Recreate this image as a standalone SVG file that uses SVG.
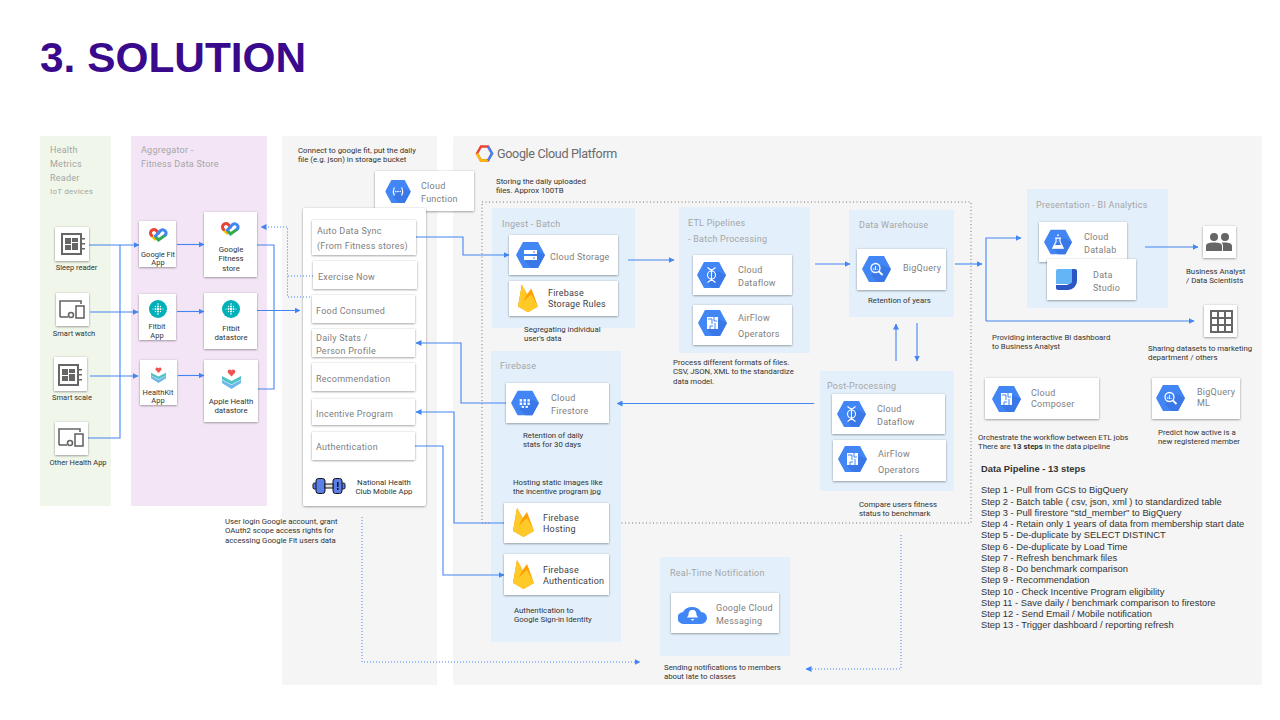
<svg xmlns="http://www.w3.org/2000/svg" width="1280" height="720" viewBox="0 0 1280 720">
<style>
text{font-family:Roboto,"Liberation Sans",sans-serif}
.title{font-family:"Liberation Sans",Arial,sans-serif;font-weight:700;font-size:42.4px;fill:#3a0a8c}
.p{font-size:9px;fill:#a5a5a5;letter-spacing:.25px}
.l{font-size:9px;fill:#808080;letter-spacing:.25px}
.d{font-size:9px;fill:#424242;letter-spacing:.2px}
.n{font-size:7.8px;fill:#333}
.sm{font-size:7.5px;fill:#333}
.s{font-family:"Liberation Sans",Arial,sans-serif;font-size:9.35px;fill:#333}
.m{text-anchor:middle}
.c{fill:#fff;filter:url(#sh)}
.g{fill:#f5f5f5}.b{fill:#e3f0fb}
.w{fill:none;stroke:#4285f4;stroke-width:1.1}
.a{marker-end:url(#ah)}
.dot{fill:none;stroke:#4285f4;stroke-width:1;stroke-dasharray:1 2}
.hx{fill:#4285f4}
.wf{fill:#fff}.ws{fill:none;stroke:#fff}
</style>
<defs>
<filter id="sh" x="-10%" y="-10%" width="120%" height="125%"><feDropShadow dx="0" dy=".7" stdDeviation=".8" flood-color="#000" flood-opacity=".42"/></filter>
<marker id="ah" viewBox="0 0 6 6" refX="5.5" refY="3" markerWidth="6" markerHeight="6" markerUnits="userSpaceOnUse" orient="auto"><path d="M0 0L6 3L0 6z" fill="#4285f4"/></marker>
<symbol id="hex" viewBox="0 0 29 26"><polygon class="hx" points="0,13 7,0 22,0 29,13 22,26 7,26"/><polygon fill="#3b78e7" points="9,19 20,9 29,13 22,26 15,26"/></symbol>
<symbol id="i-storage" viewBox="0 0 29 26"><use href="#hex" width="29" height="26"/><rect class="wf" x="8" y="8" width="13" height="4"/><rect class="wf" x="8" y="14" width="13" height="4"/><rect class="hx" x="17" y="9.5" width="2" height="1"/><rect class="hx" x="17" y="15.5" width="2" height="1"/></symbol>
<symbol id="i-flow" viewBox="0 0 29 26"><use href="#hex" width="29" height="26"/><circle class="ws" cx="14.5" cy="13" r="4" stroke-width="1.1"/><path class="ws" stroke-width="1.1" d="M14.5 7V19M10.500 5.500l4 3 4-3M10.500 20.500l4-3 4 3"/></symbol>
<symbol id="i-air" viewBox="0 0 29 26"><use href="#hex" width="29" height="26"/><rect class="wf" x="9" y="7" width="11" height="12"/><path stroke="#4285f4" stroke-width="1" fill="none" d="M10 9h4v5M16 7v4h3M12 19v-3h3M17 13v6"/></symbol>
<symbol id="i-bq" viewBox="0 0 29 26"><use href="#hex" width="29" height="26"/><circle class="ws" cx="13.5" cy="12" r="4.500" stroke-width="1.300"/><path class="ws" stroke-width="1.800" d="M16.800 15.300l3.700 3.700"/><path class="ws" stroke-width=".9" d="M11.800 14v-2M13.500 14v-4M15.200 14v-1"/></symbol>
<symbol id="i-store" viewBox="0 0 29 26"><use href="#hex" width="29" height="26"/><g class="wf"><rect x="9" y="9" width="2.500" height="2.500"/><rect x="13" y="9" width="2.500" height="2.500"/><rect x="17" y="9" width="2.500" height="2.500"/><rect x="9" y="12.500" width="2.500" height="2.500"/><rect x="13" y="12.500" width="2.500" height="2.500"/><rect x="17" y="12.500" width="2.500" height="2.500"/><rect x="11" y="16" width="2.500" height="2"/><rect x="15" y="16" width="2.500" height="2"/></g></symbol>
<symbol id="i-lab" viewBox="0 0 29 26"><use href="#hex" width="29" height="26"/><path class="ws" stroke-width="1.100" d="M12.500 9v3.500l-3.500 7h11l-3.500-7V9M11.500 9h6"/><path class="wf" d="M11 16h7l2 3.500h-11z"/><circle class="wf" cx="14.500" cy="6" r=".9"/></symbol>
<symbol id="i-fn" viewBox="0 0 29 26"><use href="#hex" width="29" height="26"/><path class="ws" stroke-width="1.300" d="M10.500 8.500Q8 13 10.500 17.500M18.500 8.500Q21 13 18.500 17.500"/><g class="wf"><circle cx="12" cy="13" r=".9"/><circle cx="14.500" cy="13" r=".9"/><circle cx="17" cy="13" r=".9"/></g></symbol>
<symbol id="i-fire" viewBox="0 0 21 29"><path fill="#f57c00" d="M0 23L4 0L9.500 10L12 14z"/><path fill="#ffa000" d="M0 23L14 4L21 23L10.500 29z"/><path fill="#ffca28" d="M0 23L4 0L9.500 10L5 19zM0 23L14 10L21 23L10.500 29z"/></symbol>
<symbol id="i-fit" viewBox="0 0 19 16"><g fill="none" stroke-width="3" stroke-linecap="round"><path stroke="#fbbc04" d="M2.600 7.500L6 11"/><path stroke="#34a853" d="M6.500 8.500L9.500 12L16.400 7"/><path stroke="#ea4335" d="M9.500 5L7.300 2.500A3.300 3.300 0 0 0 2.600 7.500"/><path stroke="#4285f4" d="M6.500 8L11.700 2.500A3.300 3.300 0 0 1 16.400 7"/></g></symbol>
<symbol id="i-fitbit" viewBox="0 0 18 18"><circle cx="9" cy="9" r="9" fill="#00b0b9"/><g fill="#fff"><circle cx="9" cy="4" r=".8"/><circle cx="9" cy="6.500" r="1"/><circle cx="9" cy="9" r="1.200"/><circle cx="9" cy="11.500" r="1"/><circle cx="9" cy="14" r=".8"/><circle cx="6.500" cy="6.500" r=".7"/><circle cx="6.500" cy="9" r=".9"/><circle cx="6.500" cy="11.500" r=".7"/><circle cx="11.500" cy="6.500" r=".7"/><circle cx="11.500" cy="9" r=".9"/><circle cx="11.500" cy="11.500" r=".7"/><circle cx="4" cy="9" r=".6"/><circle cx="14" cy="9" r=".6"/></g></symbol>
<symbol id="i-kit" viewBox="0 0 19 20"><path fill="#6fb7e8" d="M0 11L9.500 16L19 11V14L9.500 20L0 14z"/><path fill="#4fc3c7" d="M0 7L9.500 12L19 7V10.500L9.500 15.500L0 10.500z"/><path fill="#ef5350" d="M9.500 7.500L5.800 3.500C5 1 8 -.5 9.500 1.500C11 -.5 14 1 13.200 3.500z"/></symbol>
<symbol id="i-sleep" viewBox="0 0 24 22"><g fill="#666"><path fill-rule="evenodd" d="M0 0H21V22H0zM2 2V20H19V2z"/><rect x="4" y="5" width="6" height="6"/><rect x="11" y="5" width="6" height="4"/><rect x="4" y="12" width="6" height="5"/><rect x="11" y="10" width="6" height="7"/><rect x="21" y="5" width="3" height="1.500"/><rect x="21" y="10" width="3" height="1.500"/><rect x="21" y="15" width="3" height="1.500"/></g></symbol>
<symbol id="i-watch" viewBox="0 0 26 19"><g fill="none" stroke="#666" stroke-width="1.600"><path d="M1 17V1H22V4"/><path d="M1 17H9"/><rect x="17" y="6" width="8" height="12"/><circle cx="12" cy="15" r="2.500"/></g></symbol>
<symbol id="i-people" viewBox="0 0 26 18"><g fill="#666"><circle cx="8" cy="4" r="4"/><circle cx="19" cy="4" r="4"/><path d="M0 18V13C0 10 4 9.500 8 9.500S16 10 16 13V18z"/><path d="M17 18V13C17 11.500 16.500 10.500 15.500 9.700C21 9 26 10 26 13V18z"/></g></symbol>
<symbol id="i-grid" viewBox="0 0 23 23"><path fill="none" stroke="#666" stroke-width="2" d="M1 1H22V22H1zM8 1V22M15 1V22M1 8H22M1 15H22"/></symbol>
<symbol id="i-studio" viewBox="0 0 21 21"><path fill="#2a56c6" d="M19 0a2 2 0 0 1 2 2V12a9 9 0 0 1-9 9H2a2 2 0 0 1-2-2V16H10a4 4 0 0 0 4-4V0z"/><path fill="#64b5f6" d="M2 0H16V12a3 3 0 0 1-3 3H0V2a2 2 0 0 1 2-2z"/></symbol>
<symbol id="i-gcm" viewBox="0 0 29 19"><path class="hx" d="M6 19a6 6 0 0 1-1-12A10 9 0 0 1 23 7a6 6 0 0 1 0 12z"/><path class="wf" d="M14.500 5c3 0 4 2 4 5l1.500 2.500H9L10.500 10c0-3 1-5 4-5zM13 14h3a1.500 1.500 0 0 1-3 0z"/></symbol>
<symbol id="i-bell" viewBox="0 0 34 16"><g stroke="#111" stroke-width="1"><rect x="1" y="5" width="4" height="6" rx="1.500" fill="#5b7fe8"/><rect x="29" y="5" width="4" height="6" rx="1.500" fill="#5b7fe8"/><rect x="4" y="0.500" width="9" height="15" rx="2.500" fill="#5b7fe8"/><rect x="21" y="0.500" width="9" height="15" rx="2.500" fill="#5b7fe8"/><rect x="13" y="6" width="8" height="4" fill="#ddd"/></g><rect x="25" y="4" width="1.500" height="5" fill="#111"/><rect x="25" y="10" width="1.500" height="2" fill="#111"/></symbol>
</defs>
<rect width="1280" height="720" fill="#fff"/>
<text class="title" x="40" y="72">3. SOLUTION</text>

<g id="panels">
<rect x="40" y="136" width="71" height="370" fill="#f0f6e9"/>
<rect x="131" y="136" width="136" height="370" fill="#f3e5f5"/>
<rect class="g" x="282" y="136" width="155" height="549"/>
<rect class="g" x="453" y="136" width="809" height="549" rx="2"/>
<rect x="482" y="202" width="489" height="321" fill="none" stroke="#757575" stroke-width="1" stroke-dasharray="1 2.500"/>
<rect class="b" x="492" y="208" width="143" height="120"/>
<rect class="b" x="679" y="207" width="131" height="146"/>
<rect class="b" x="849" y="210" width="105" height="107"/>
<rect class="b" x="1027" y="189" width="141" height="119"/>
<rect class="b" x="820" y="371" width="134" height="120"/>
<rect class="b" x="491" y="351" width="130" height="291"/>
<rect class="b" x="660" y="557" width="130" height="99"/>
</g>

<g id="node-cloud-function">
<rect class="c" x="375" y="171" width="99" height="40"/>
<use href="#i-fn" x="385" y="180" width="26" height="23"/>
<text class="l" x="421" y="189">Cloud</text><text class="l" x="421" y="202">Function</text>
</g>
<g id="node-mobile-app-card"><rect class="c" x="303" y="208" width="123" height="298" rx="2"/></g>

<g id="connectors">
<path class="w a" d="M89 245H139"/>
<path class="w" d="M120 245V438H88"/>
<path class="w a" d="M90 312H138"/>
<path class="w a" d="M90 376H138"/>
<path class="w a" d="M177 244.500H204"/>
<path class="w a" d="M177 311.500H204"/>
<path class="w a" d="M178 375.500H204"/>
<path class="w" d="M257 245H274V389H258"/>
<path class="w a" d="M257 310.500H300"/>
<path class="dot" d="M313 276H288"/>
<path class="dot a" d="M313 297H287.500V227H261"/>
<path class="w a" d="M416 237H463V255H509"/>
<path class="w a" d="M506 403H461V343H416"/>
<path class="w a" d="M504 523H454V412H416"/>
<path class="w a" d="M415 446H443V575H504"/>
<path class="w a" d="M628 260H674"/>
<path class="w a" d="M815 264H850"/>
<path class="w a" d="M955 264H982"/>
<path class="w a" d="M986 321V238H1021"/>
<path class="w a" d="M986 321H1194"/>
<path class="w a" d="M1145 247H1198"/>
<path class="w a" d="M896 361V324"/>
<path class="w a" d="M917 323V361"/>
<path class="w a" d="M814 403.500H617"/>
<path class="dot a" d="M362 517V662H640"/>
<path class="dot a" d="M901 535V669H806"/>
</g>

<g id="label-gcp">
<polygon points="477,153.500 481,146.500 488,146.500 492,153.500 488,160.500 481,160.500" fill="none" stroke="#ea4335" stroke-width="2.500"/>
<path d="M477 153.500L481 160.500H488" fill="none" stroke="#fbbc04" stroke-width="2.500"/><path d="M488 146.500L492 153.500L488 160.500" fill="none" stroke="#4285f4" stroke-width="2.500"/>
<text x="497" y="158" font-size="12.600" fill="#6b6b6b" letter-spacing="-.35">Google Cloud Platform</text>
</g>
<g id="panel-labels">
<text class="p" x="50" y="153">Health</text><text class="p" x="50" y="167">Metrics</text><text class="p" x="50" y="181">Reader</text><text class="p" x="50" y="194" style="font-size:8px">IoT devices</text>
<text class="p" x="141" y="153">Aggregator -</text><text class="p" x="141" y="167">Fitness Data Store</text>
<text class="n" x="298" y="153">Connect to google fit, put the daily</text><text class="n" x="298" y="162">file (e.g. json) in storage bucket</text>
<text class="n" x="225" y="524">User login Google account, grant</text><text class="n" x="225" y="533">OAuth2 scope access rights for</text><text class="n" x="225" y="543">accessing Google Fit users data</text>
<text class="n" x="496" y="184">Storing the daily uploaded</text><text class="n" x="496" y="193">files. Approx 100TB</text>
</g>

<g id="node-sleep-reader"><rect class="c" x="55" y="227" width="34" height="34"/><use href="#i-sleep" x="61" y="233" width="24" height="22"/><text class="sm m" x="76.500" y="270">Sleep reader</text></g>
<g id="node-smart-watch"><rect class="c" x="56" y="293" width="33" height="33"/><use href="#i-watch" x="59" y="300" width="26" height="19"/><text class="sm m" x="74" y="336">Smart watch</text></g>
<g id="node-smart-scale"><rect class="c" x="54" y="357" width="33" height="34"/><use href="#i-sleep" x="58" y="364" width="24" height="22"/><text class="sm m" x="72" y="400">Smart scale</text></g>
<g id="node-other-health"><rect class="c" x="55" y="422" width="33" height="33"/><use href="#i-watch" x="58" y="428" width="26" height="19"/><text class="sm m" x="78" y="465">Other Health App</text></g>

<g id="node-google-fit-app"><rect class="c" x="139" y="221" width="37" height="46"/><use href="#i-fit" x="149" y="228" width="19" height="16"/><text class="sm m" x="158" y="257">Google Fit</text><text class="sm m" x="158" y="265">App</text></g>
<g id="node-fitbit-app"><rect class="c" x="139" y="294" width="37" height="46"/><use href="#i-fitbit" x="149" y="300" width="18" height="18"/><text class="sm m" x="157" y="329">Fitbit</text><text class="sm m" x="157" y="338">App</text></g>
<g id="node-healthkit-app"><rect class="c" x="140" y="360" width="37" height="45"/><use href="#i-kit" x="151" y="367" width="15" height="16"/><text class="sm m" x="158" y="395">HealthKit</text><text class="sm m" x="158" y="403">App</text></g>
<g id="node-google-fitness"><rect class="c" x="204" y="212" width="53" height="65"/><use href="#i-fit" x="221" y="222" width="19" height="16"/><text class="n m" x="231" y="252">Google</text><text class="n m" x="231" y="261">Fitness</text><text class="n m" x="231" y="271">store</text></g>
<g id="node-fitbit-store"><rect class="c" x="204" y="293" width="53" height="56"/><use href="#i-fitbit" x="222" y="300" width="18" height="18"/><text class="n m" x="231" y="331">Fitbit</text><text class="n m" x="231" y="340">datastore</text></g>
<g id="node-apple-health"><rect class="c" x="204" y="360" width="54" height="62"/><use href="#i-kit" x="222" y="369" width="19" height="20"/><text class="n m" x="231" y="404">Apple Health</text><text class="n m" x="231" y="413">datastore</text></g>

<g id="node-auto-sync"><rect class="c" x="312" y="220" width="104" height="35"/><text class="l" x="317" y="234">Auto Data Sync</text><text class="l" x="317" y="249">(From Fitness stores)</text></g>
<g id="node-exercise"><rect class="c" x="313" y="261" width="104" height="28"/><text class="l" x="318" y="280">Exercise Now</text></g>
<g id="node-food"><rect class="c" x="312" y="295" width="103" height="28"/><text class="l" x="316" y="314">Food Consumed</text></g>
<g id="node-daily"><rect class="c" x="312" y="329" width="103" height="28"/><text class="l" x="316" y="341">Daily Stats /</text><text class="l" x="316" y="354">Person Profile</text></g>
<g id="node-recommendation"><rect class="c" x="312" y="363" width="103" height="28"/><text class="l" x="316" y="382">Recommendation</text></g>
<g id="node-incentive"><rect class="c" x="312" y="399" width="103" height="26"/><text class="l" x="316" y="417">Incentive Program</text></g>
<g id="node-authentication"><rect class="c" x="312" y="432" width="103" height="28"/><text class="l" x="316" y="450">Authentication</text></g>
<g id="node-app-label"><use href="#i-bell" x="312" y="478" width="34" height="16"/><text class="n m" x="384" y="485">National Health</text><text class="n m" x="384" y="494">Club Mobile App</text></g>

<g id="node-ingest"><text class="p" x="502" y="227">Ingest - Batch</text>
<rect class="c" x="509" y="235" width="109" height="40"/><use href="#i-storage" x="516" y="242" width="29" height="26"/><text class="l" x="550" y="260">Cloud Storage</text>
<rect class="c" x="509" y="281" width="109" height="35"/><use href="#i-fire" x="518" y="284" width="20" height="29"/><text class="d" x="548" y="296">Firebase</text><text class="d" x="548" y="307">Storage Rules</text>
<text class="n" x="524" y="332">Segregating individual</text><text class="n" x="524" y="341">user's data</text></g>

<g id="node-etl"><text class="p" x="688" y="226">ETL Pipelines</text><text class="p" x="688" y="242">- Batch Processing</text>
<rect class="c" x="693" y="255" width="99" height="40"/><use href="#i-flow" x="697" y="262" width="29" height="26"/><text class="l" x="738" y="273">Cloud</text><text class="l" x="738" y="286">Dataflow</text>
<rect class="c" x="693" y="305" width="99" height="40"/><use href="#i-air" x="698" y="310" width="29" height="26"/><text class="l" x="738" y="321">AirFlow</text><text class="l" x="738" y="337">Operators</text>
<text class="n" x="673" y="365">Process different formats of files.</text><text class="n" x="673" y="374">CSV, JSON, XML to the standardize</text><text class="n" x="673" y="384">data model.</text></g>

<g id="node-warehouse"><text class="p" x="859" y="228">Data Warehouse</text>
<rect class="c" x="857" y="249" width="89" height="41"/><use href="#i-bq" x="862" y="256" width="29" height="26"/><text class="l" x="903" y="271">BigQuery</text>
<text class="n" x="868" y="303">Retention of years</text></g>

<g id="node-presentation"><text class="p" x="1036" y="208">Presentation - BI Analytics</text>
<rect class="c" x="1039" y="222" width="88" height="40"/><use href="#i-lab" x="1044" y="229" width="28" height="26"/><text class="l" x="1084" y="240">Cloud</text><text class="l" x="1084" y="253">Datalab</text>
<rect class="c" x="1047" y="259" width="89" height="41"/><use href="#i-studio" x="1056" y="269" width="21" height="21"/><text class="l" x="1093" y="278">Data</text><text class="l" x="1093" y="291">Studio</text></g>

<g id="node-analyst"><rect class="c" x="1203" y="226" width="33" height="32"/><use href="#i-people" x="1206" y="233" width="26" height="18"/><text class="n" x="1186" y="274">Business Analyst</text><text class="n" x="1186" y="283">/ Data Scientists</text></g>
<g id="node-sharing"><rect class="c" x="1204" y="305" width="33" height="32"/><use href="#i-grid" x="1210" y="310" width="23" height="23"/><text class="n" x="1148" y="351">Sharing datasets to marketing</text><text class="n" x="1148" y="360">department / others</text></g>
<g id="note-bi"><text class="n" x="992" y="340">Providing interactive BI dashboard</text><text class="n" x="992" y="349">to Business Analyst</text></g>

<g id="node-composer"><rect class="c" x="985" y="378" width="114" height="41"/><use href="#i-air" x="992" y="386" width="29" height="26"/><text class="l" x="1031" y="396">Cloud</text><text class="l" x="1031" y="407">Composer</text>
<text class="n" x="978" y="440">Orchestrate the workflow between ETL jobs</text><text class="n" x="978" y="449">There are <tspan font-weight="700">13 steps</tspan> in the data pipeline</text></g>
<g id="node-bqml"><rect class="c" x="1152" y="378" width="88" height="41"/><use href="#i-bq" x="1156" y="385" width="29" height="26"/><text class="l" x="1197" y="395">BigQuery</text><text class="l" x="1197" y="406">ML</text>
<text class="n" x="1158" y="435">Predict how active is a</text><text class="n" x="1158" y="444">new registered member</text></g>

<g id="node-post"><text class="p" x="827" y="389">Post-Processing</text>
<rect class="c" x="832" y="394" width="113" height="40"/><use href="#i-flow" x="837" y="401" width="29" height="26"/><text class="l" x="877" y="412">Cloud</text><text class="l" x="877" y="425">Dataflow</text>
<rect class="c" x="833" y="440" width="113" height="41"/><use href="#i-air" x="838" y="446" width="29" height="26"/><text class="l" x="878" y="457">AirFlow</text><text class="l" x="878" y="473">Operators</text>
<text class="n" x="859" y="507">Compare users fitness</text><text class="n" x="859" y="516">status to benchmark</text></g>

<g id="node-firebase"><text class="p" x="500" y="369">Firebase</text>
<rect class="c" x="506" y="383" width="103" height="40"/><use href="#i-store" x="511" y="390" width="28" height="26"/><text class="l" x="551" y="401">Cloud</text><text class="l" x="551" y="414">Firestore</text>
<text class="n" x="523" y="438">Retention of daily</text><text class="n" x="523" y="447">stats for 30 days</text>
<text class="n" x="513" y="485">Hosting static images like</text><text class="n" x="513" y="494">the incentive program jpg</text>
<rect class="c" x="504" y="503" width="105" height="40"/><use href="#i-fire" x="513" y="508" width="21" height="29"/><text class="d" x="543" y="521">Firebase</text><text class="d" x="543" y="532">Hosting</text>
<rect class="c" x="504" y="554" width="105" height="41"/><use href="#i-fire" x="513" y="560" width="21" height="29"/><text class="d" x="543" y="573">Firebase</text><text class="d" x="543" y="584">Authentication</text>
<text class="n" x="514" y="613">Authentication to</text><text class="n" x="514" y="622">Google Sign-in Identity</text></g>

<g id="node-notification"><text class="p" x="670" y="576">Real-Time Notification</text>
<rect class="c" x="671" y="593" width="108" height="40"/><use href="#i-gcm" x="678" y="605" width="29" height="19"/><text class="l" x="716" y="611">Google Cloud</text><text class="l" x="716" y="624">Messaging</text>
<text class="n" x="664" y="670">Sending notifications to members</text><text class="n" x="664" y="679">about late to classes</text></g>

<g id="steps">
<text class="s" x="981" y="471.500" style="font-weight:700">Data Pipeline - 13 steps</text>
<text class="s" x="981" y="493">Step 1 - Pull from GCS to BigQuery</text>
<text class="s" x="981" y="504.500">Step 2 - Batch table ( csv, json, xml ) to standardized table</text>
<text class="s" x="981" y="515.500">Step 3 - Pull firestore "std_member" to BigQuery</text>
<text class="s" x="981" y="527">Step 4 - Retain only 1 years of data from membership start date</text>
<text class="s" x="981" y="538">Step 5 - De-duplicate by SELECT DISTINCT</text>
<text class="s" x="981" y="549.500">Step 6 - De-duplicate by Load Time</text>
<text class="s" x="981" y="560.500">Step 7 - Refresh benchmark files</text>
<text class="s" x="981" y="572">Step 8 - Do benchmark comparison</text>
<text class="s" x="981" y="583">Step 9 - Recommendation</text>
<text class="s" x="981" y="594.500">Step 10 - Check Incentive Program eligibility</text>
<text class="s" x="981" y="606">Step 11 - Save daily / benchmark comparison to firestore</text>
<text class="s" x="981" y="617">Step 12 - Send Email / Mobile notification</text>
<text class="s" x="981" y="628">Step 13 - Trigger dashboard / reporting refresh</text>
</g>
</svg>
